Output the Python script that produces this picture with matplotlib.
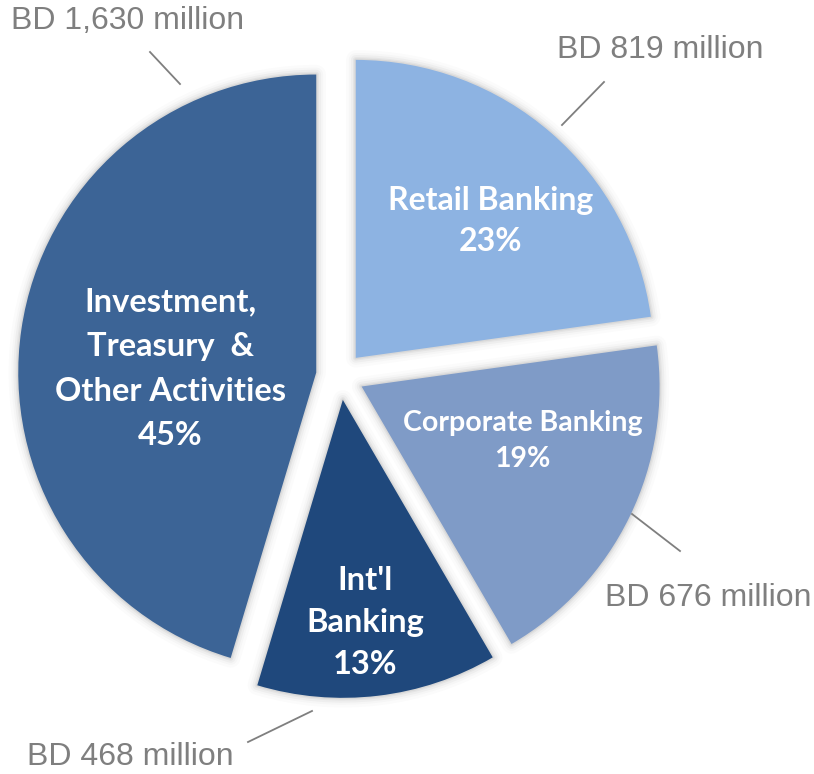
import numpy as np
import matplotlib
matplotlib.use('Agg')
import matplotlib.pyplot as plt

segments = ["Retail Banking", "Corporate Banking", "Int'l\nBanking", "Investment,\nTreasury  &\nOther Activities"]
amounts = [819, 676, 468, 1630]  # BD million
amount_labels = ["BD 819 million", "BD 676 million", "BD 468 million", "BD 1,630 million"]
colors = ["#8DB3E2", "#7F9BC7", "#1F487C", "#3C6496"]

W, H = 814, 774
center = (340, 398)
radius = 298
explode = [24] * 4  # pie() takes the offset in data units

fig = plt.figure(figsize=(W / 100, H / 100), dpi=100)
ax = fig.add_axes([0, 0, 1, 1])

# soft halo under the slices
for lw, a in [(14, 0.015), (10, 0.02), (7, 0.03), (4, 0.04), (2, 0.05)]:
    ax.pie(amounts, startangle=90, counterclock=False, center=center, radius=radius,
           explode=explode, colors=["none"] * 4,
           wedgeprops=dict(edgecolor=(0, 0, 0, a), linewidth=lw, joinstyle='round'))

wedges, _ = ax.pie(amounts, startangle=90, counterclock=False, center=center,
                   radius=radius, explode=explode, colors=colors,
                   wedgeprops=dict(linewidth=0))

total = sum(amounts)
# (angle from slice centre, fraction of radius, font size, line spacing) for the inside labels
inner_pos = [(45.4, 0.645, 23, 1.52), (-18.8, 0.57, 20.5, 1.5),
             (-84.3, 0.75, 23.5, 1.55), (178.5, 0.49, 23.5, 1.66)]
for w, name, amt, (ang, frac, fs, ls) in zip(wedges, segments, amounts, inner_pos):
    cx, cy = w.center
    x = cx + frac * radius * np.cos(np.radians(ang))
    y = cy + frac * radius * np.sin(np.radians(ang))
    ax.text(x, y, f"{name}\n{amt / total:.0%}", ha='center', va='center', color='white',
            fontsize=fs, fontweight='bold', family='Lato', linespacing=ls)

# outside value labels with leader lines
leaders = [((562, 649), (604, 692), (660, 724)),
           ((632, 260), (680, 223), (708, 176)),
           ((312, 63), (248, 32), (130, 17)),
           ((180, 690), (150, 722), (128, 753))]
for txt, (p0, p1, pt) in zip(amount_labels, leaders):
    ax.plot([p0[0], p1[0]], [p0[1], p1[1]], color='#7F7F7F', lw=1.3)
    ax.text(pt[0], pt[1], txt, ha='center', va='center', color='#7F7F7F',
            fontsize=23, family='Liberation Sans')

ax.set_xlim(0, W)
ax.set_ylim(0, H)
ax.set_aspect('equal')
ax.axis('off')
fig.savefig('out.png', dpi=100, facecolor='white')
